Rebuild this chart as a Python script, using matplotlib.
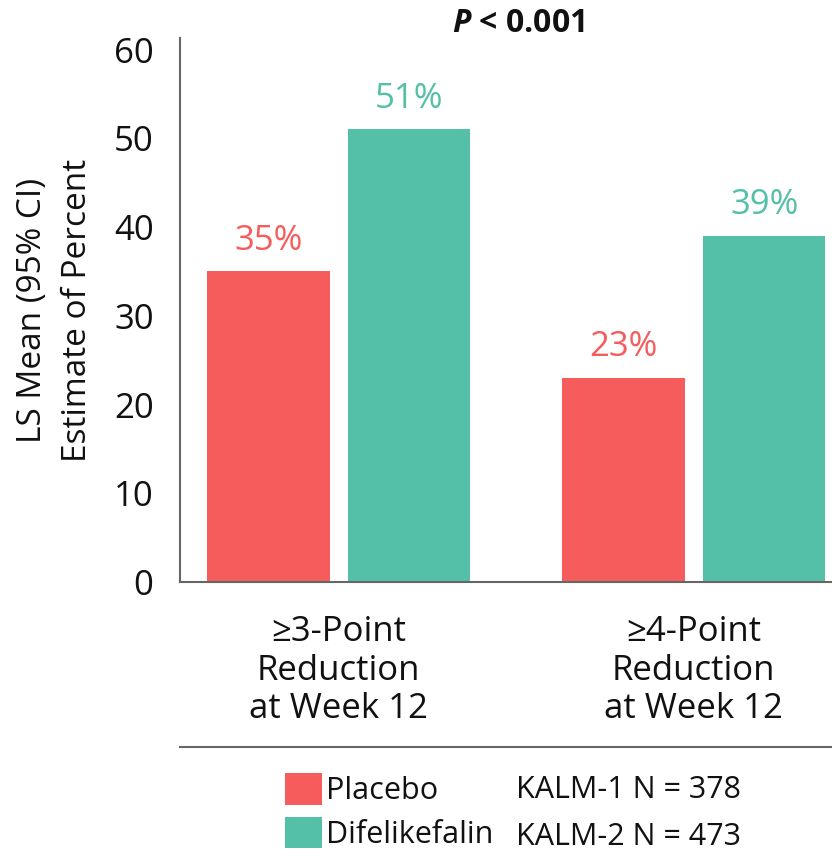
import matplotlib
matplotlib.use("Agg")
import matplotlib.pyplot as plt
import numpy as np
from matplotlib.lines import Line2D

plt.rcParams['font.family'] = ['Open Sans', 'DejaVu Sans']
plt.rcParams['mathtext.fontset'] = 'custom'
plt.rcParams['mathtext.it'] = 'Open Sans:italic:bold'
plt.rcParams['mathtext.bf'] = 'Open Sans:bold'
plt.rcParams['mathtext.rm'] = 'Open Sans'

# Daten
categories = ["≥3-Point\nReduction\nat Week 12", "≥4-Point\nReduction\nat Week 12"]
placebo = [35, 23]
difelikefalin = [51, 39]
series_names = ["Placebo", "Difelikefalin"]
study_labels = ["KALM-1 N = 378", "KALM-2 N = 473"]
yticks = [0, 10, 20, 30, 40, 50, 60]

red = "#F65C5C"
teal = "#54C0A8"
dark = "#111111"

fig = plt.figure(figsize=(8.32, 8.57), dpi=100)
ax = fig.add_axes([180 / 832, 1 - 582 / 857, 1 - 180 / 832, (582 - 38) / 857])

x = np.arange(len(categories))
w = 0.344
off = 0.198
b1 = ax.bar(x - off, placebo, w, color=red, label=series_names[0])
b2 = ax.bar(x + off, difelikefalin, w, color=teal, label=series_names[1])

for bars, vals, col in [(b1, placebo, red), (b2, difelikefalin, teal)]:
    for rect, v in zip(bars, vals):
        ax.annotate(f"{v}%", (rect.get_x() + rect.get_width() / 2, v),
                    xytext=(0, 10), textcoords="offset points",
                    ha="center", va="bottom", fontsize=25, color=col)

ax.set_xlim(-0.447, 1.389)
ax.set_ylim(0, 61.3)
ax.set_yticks(yticks)
ax.set_xticks(x)
ax.set_xticklabels(categories, fontsize=25, linespacing=1.17, color=dark)
ax.tick_params(axis="y", length=0, pad=19, labelsize=25, labelcolor=dark)
ax.tick_params(axis="x", length=0, pad=24)

for s in ["top", "right"]:
    ax.spines[s].set_visible(False)
for s in ["left", "bottom"]:
    ax.spines[s].set_color("#666666")
    ax.spines[s].set_linewidth(1.5)

ax.set_ylabel("LS Mean (95% CI)\nEstimate of Percent", fontsize=24,
              labelpad=14, color=dark, linespacing=1.5)

fig.text(518 / 832, 1 - 23 / 857, r"$\it{P}$ < 0.001", fontsize=23,
         fontweight="bold", ha="center", va="center", color=dark)

# Trennlinie
fig.add_artist(Line2D([180 / 832, 1], [1 - 747 / 857] * 2, color="#666666", lw=1.5))

leg = fig.legend(handles=[b1, b2], labels=series_names, loc="upper left",
                 bbox_to_anchor=(273 / 832, 1 - 761 / 857), frameon=False,
                 fontsize=22, handlelength=1.2, handleheight=1.2,
                 handletextpad=0.15, labelspacing=0.35, borderaxespad=0)
for t in leg.get_texts():
    t.set_color(dark)

for i, t in enumerate(study_labels):
    fig.text(516 / 832, 1 - (790 + 47 * i) / 857, t, fontsize=22,
             va="center", color=dark)

fig.savefig("out.png", dpi=100)
